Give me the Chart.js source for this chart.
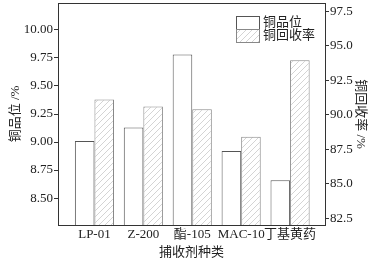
<!DOCTYPE html>
<html>
<head>
<meta charset="utf-8">
<script src="https://cdn.jsdelivr.net/npm/chart.js@4"></script>
<style>
    html, body { margin: 0; padding: 0; background: #fff; }
    #wrap { width: 376px; height: 260px; }
</style>
</head>
<body>
<div id="wrap"><canvas id="chart"></canvas></div>
<script>
const CATEGORIES = ['LP-01', 'Z-200', '酯-105', 'MAC-10', '丁基黄药'];
const GRADE = [9.01, 9.13, 9.78, 8.92, 8.66];
const RECOVERY = [91.1, 90.6, 90.4, 88.4, 93.95];
const GRADE_TICKS = [8.5, 8.75, 9.0, 9.25, 9.5, 9.75, 10.0];
const RECOVERY_TICKS = [82.5, 85.0, 87.5, 90.0, 92.5, 95.0, 97.5];
const SERIES_LABELS = ['铜品位', '铜回收率'];

const FONT = '"Liberation Serif", "Noto Sans CJK SC", serif';
const AXIS = '#333';

function hatchPattern() {
    const c = document.createElement('canvas');
    c.width = 6;
    c.height = 6;
    const g = c.getContext('2d');
    g.fillStyle = '#fff';
    g.fillRect(0, 0, 6, 6);
    g.strokeStyle = '#d4d4d4';
    g.lineWidth = 1;
    g.beginPath();
    g.moveTo(0, 6); g.lineTo(6, 0);
    g.moveTo(-3, 3); g.lineTo(3, -3);
    g.moveTo(3, 9); g.lineTo(9, 3);
    g.stroke();
    return g.createPattern(c, 'repeat');
}

const hatch = hatchPattern();

// vertical axes: fixed width, no extra room for half tick labels
function fitVertical(width) {
    return axis => {
        axis.width = width;
        axis.paddingTop = 0;
        axis.paddingBottom = 0;
    };
}

// frame on top + legend in the upper right of the plot
const framePlugin = {
    id: 'frame',
    afterDraw(chart) {
        const { ctx, chartArea: a } = chart;
        ctx.save();
        ctx.strokeStyle = AXIS;
        ctx.lineWidth = 1;
        ctx.beginPath();
        ctx.moveTo(a.left, a.top + 0.5);
        ctx.lineTo(a.right, a.top + 0.5);
        ctx.stroke();

        const fills = ['#fff', hatch];
        const borders = ['#555', '#888'];
        const x = a.right - 89;
        let y = a.top + 13;
        ctx.font = '13px ' + FONT;
        ctx.textBaseline = 'middle';
        SERIES_LABELS.forEach((lab, i) => {
            ctx.fillStyle = fills[i];
            ctx.fillRect(x, y, 23, 13);
            ctx.strokeStyle = borders[i];
            ctx.strokeRect(x + 0.5, y + 0.5, 23, 13);
            ctx.fillStyle = '#222';
            ctx.fillText(lab, x + 27, y + 7);
            y += 13;
        });
        ctx.restore();
    },
};

new Chart(document.getElementById('chart'), {
    type: 'bar',
    data: {
        datasets: [
            {
                label: SERIES_LABELS[0],
                data: GRADE.map((v, i) => ({ x: i + 1, y: v })),
                backgroundColor: '#fff',
                borderColor: '#555',
                borderWidth: 1,
                yAxisID: 'y',
            },
            {
                label: SERIES_LABELS[1],
                data: RECOVERY.map((v, i) => ({ x: i + 1, y: v })),
                backgroundColor: hatch,
                borderColor: '#888',
                borderWidth: 1,
                yAxisID: 'y2',
            },
        ],
    },
    options: {
        responsive: true,
        maintainAspectRatio: false,
        animation: false,
        categoryPercentage: 0.8,
        barPercentage: 1.0,
        layout: { autoPadding: false, padding: { top: 3, right: 0, left: 0, bottom: 0 } },
        plugins: {
            legend: { display: false },
            tooltip: { enabled: false },
        },
        scales: {
            x: {
                type: 'linear',
                offset: false,
                min: 0.255,
                max: 5.714,
                afterBuildTicks: axis => {
                    axis.ticks = CATEGORIES.map((c, i) => ({ value: i + 1 }));
                },
                afterFit: axis => { axis.height = 35; },
                ticks: {
                    color: '#222',
                    font: { family: FONT, size: 13 },
                    padding: 2,
                    maxRotation: 0,
                    autoSkip: false,
                    callback: v => CATEGORIES[v - 1] || '',
                },
                grid: { display: true, drawOnChartArea: false, drawTicks: false },
                border: { color: AXIS, width: 1 },
                title: {
                    display: true,
                    text: '捕收剂种类',
                    color: '#222',
                    font: { family: FONT, size: 13 },
                    padding: { top: 0, bottom: 0 },
                },
            },
            y: {
                position: 'left',
                min: 8.26,
                max: 10.24,
                afterBuildTicks: axis => {
                    axis.ticks = GRADE_TICKS.map(v => ({ value: v }));
                },
                afterFit: fitVertical(58),
                ticks: {
                    color: '#222',
                    font: { family: FONT, size: 13 },
                    padding: 1,
                    callback: v => v.toFixed(2),
                },
                grid: { drawOnChartArea: false, tickLength: 4, tickColor: AXIS },
                border: { color: AXIS, width: 1 },
                title: {
                    display: true,
                    text: '铜品位 /%',
                    color: '#222',
                    font: { family: FONT, size: 13 },
                    padding: { top: 8, bottom: 0 },
                },
            },
            y2: {
                position: 'right',
                min: 82.0,
                max: 98.1,
                afterBuildTicks: axis => {
                    axis.ticks = RECOVERY_TICKS.map(v => ({ value: v }));
                },
                afterFit: fitVertical(51),
                ticks: {
                    color: '#222',
                    font: { family: FONT, size: 13 },
                    padding: 1,
                    callback: v => v.toFixed(1),
                },
                grid: { drawOnChartArea: false, tickLength: 4, tickColor: AXIS },
                border: { color: AXIS, width: 1 },
                title: {
                    display: true,
                    text: '铜回收率 /%',
                    color: '#222',
                    font: { family: FONT, size: 13 },
                    padding: { top: 8, bottom: 0 },
                },
            },
        },
    },
    plugins: [framePlugin],
});
</script>
</body>
</html>
